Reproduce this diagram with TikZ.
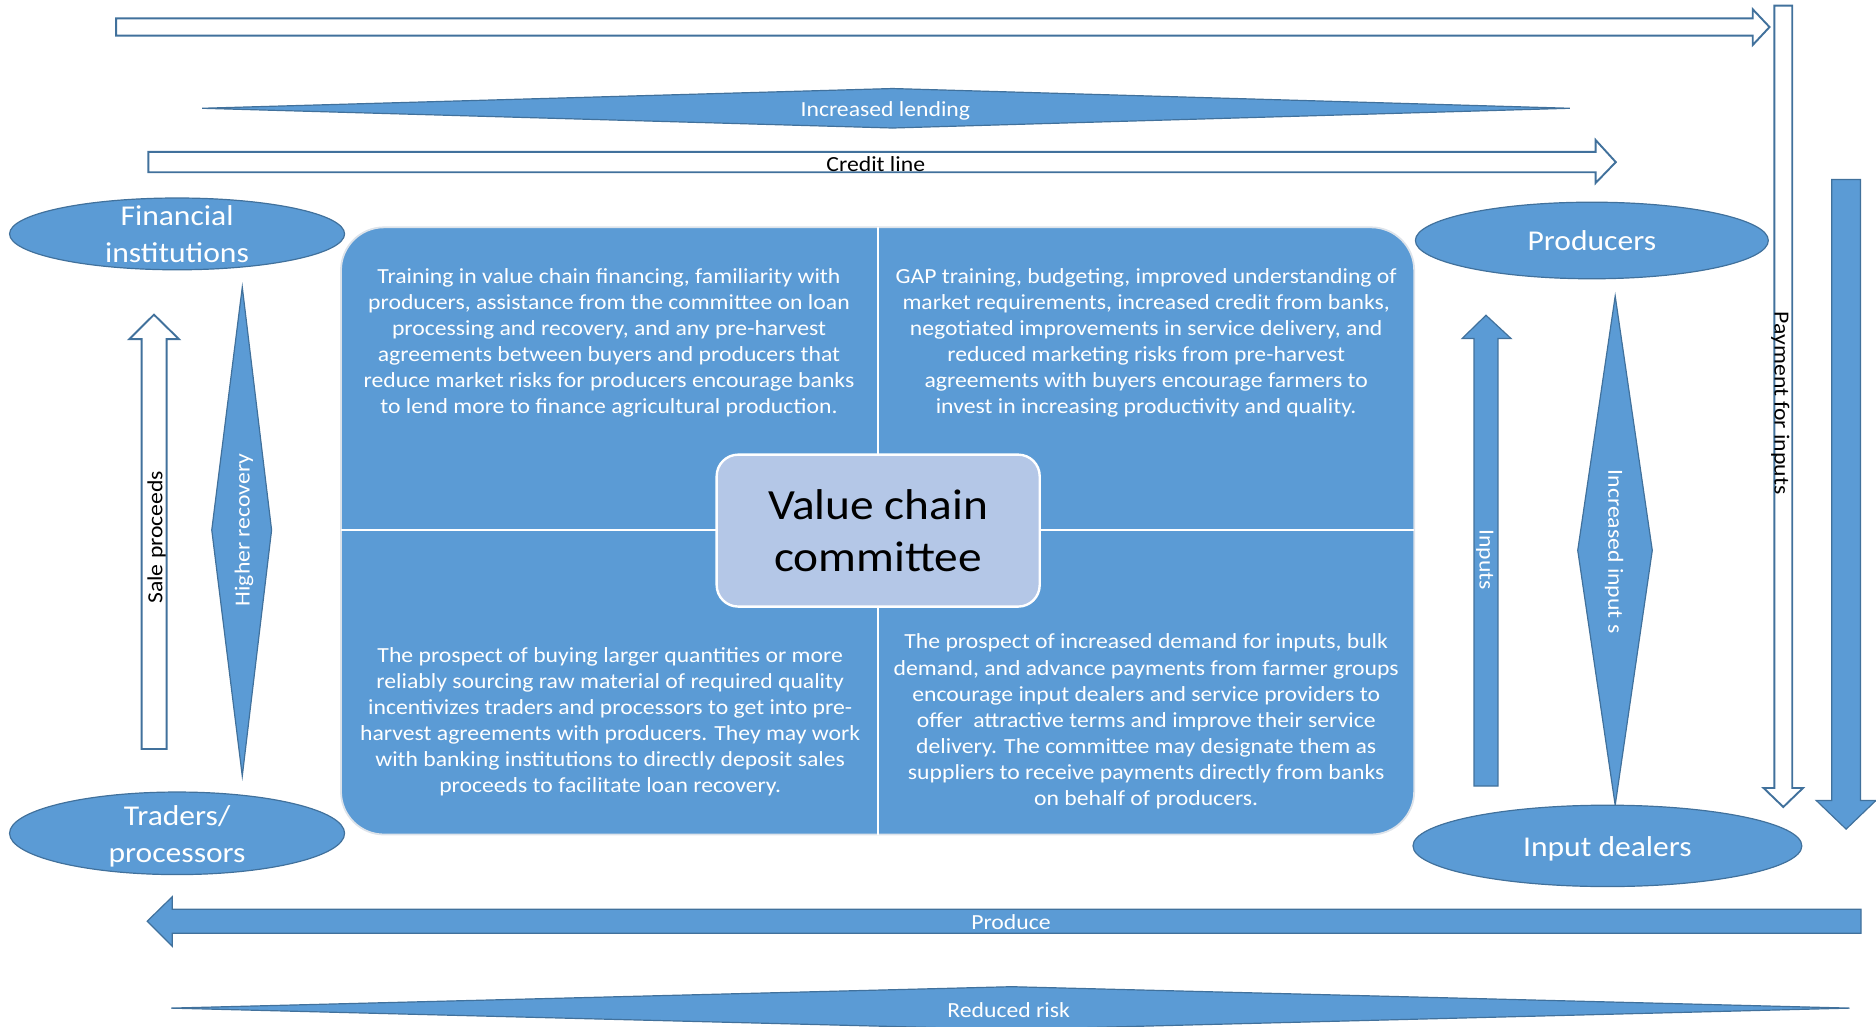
\documentclass[tikz,border=0pt]{standalone}
\usepackage{fontspec}
\setmainfont{Carlito}[FakeStretch=1.1]
\usetikzlibrary{shapes.geometric}
\definecolor{boxblue}{HTML}{5B9BD5}
\definecolor{edgeblue}{HTML}{41719C}
\definecolor{paleblue}{HTML}{B4C7E7}
\definecolor{rimgrey}{HTML}{DDE3EA}

\tikzset{
  party/.style={ellipse, fill=boxblue, draw=edgeblue, line width=1pt, inner sep=0pt},
  partytext/.style={text=white, align=center, inner sep=0pt, font=\fontsize{24}{31}\selectfont},
  solidarrow/.style={fill=boxblue, draw=edgeblue, line width=1pt, line join=miter},
  hollowarrow/.style={fill=white, draw=edgeblue, line width=1.6pt, line join=miter},
  spike/.style={fill=boxblue, draw=edgeblue, line width=1pt},
  lbl/.style={font=\fontsize{18}{21.8}\selectfont, inner sep=0pt},
  wlbl/.style={lbl, text=white},
  quadtext/.style={wlbl, align=center},
}

\begin{document}
\begin{tikzpicture}[x=1pt, y=-1pt]
\useasboundingbox (0,0) rectangle (1568,858);
\clip (0,0) rectangle (1568,858);

% ---- outer flows ----
\draw[hollowarrow] (97,15.3) -- (1465,15.3) -- (1465,7.8) -- (1479,22.6)
  -- (1465,37.6) -- (1465,29.8) -- (97,29.8) -- cycle;

\draw[spike] (169,90.5) -- (746,74) -- (1312,90.5) -- (746,107) -- cycle;
\node[wlbl] (lending) at (740,92.5) {Increased lending};

\draw[hollowarrow] (124,127) -- (1333.6,127) -- (1333.6,117) -- (1350.5,135.5)
  -- (1333.6,153) -- (1333.6,144) -- (124,144) -- cycle;
\node[lbl, anchor=base] (credit) at (732,143) {Credit line};

\draw[hollowarrow] (1483,4.7) -- (1483,658.6) -- (1474,658.6) -- (1490.5,674.5)
  -- (1507,658.6) -- (1498,658.6) -- (1498,4.7) -- cycle;
\node[lbl, rotate=-90] (payment) at (1488,337) {Payment for inputs};

\draw[solidarrow] (1531,150) -- (1531,669) -- (1518,669) -- (1543,693)
  -- (1568,669) -- (1555,669) -- (1555,150) -- cycle;

\draw[solidarrow] (1555.5,760) -- (144,760) -- (144,749.5) -- (123,770)
  -- (144,791) -- (144,780) -- (1555.5,780) -- cycle;
\node[wlbl] (produce) at (845,771) {Produce};

\draw[spike] (143,842.6) -- (845.5,824.7) -- (1546,842.6) -- (845.5,860.5) -- cycle;
\node[wlbl] (risk) at (843,844) {Reduced risk};

% ---- left side: banks and buyers ----
\draw[hollowarrow] (118.4,626) -- (118.4,283.5) -- (108,283.5) -- (128.7,263)
  -- (149.6,283.5) -- (139.3,283.5) -- (139.3,626) -- cycle;
\node[lbl, rotate=90] (sale) at (131,449) {Sale proceeds};

\draw[spike] (202.5,240) -- (227,443) -- (202.5,648.6) -- (177,443) -- cycle;
\node[wlbl, rotate=90] (recovery) at (204,443) {Higher recovery};

% ---- right side: producers and suppliers ----
\draw[solidarrow] (1232,657) -- (1232,283) -- (1222,283) -- (1242,263.5)
  -- (1263,283) -- (1252,283) -- (1252,657) -- cycle;
\node[wlbl, rotate=-90] (inputs) at (1241,467.6) {Inputs};

\draw[spike] (1350,247.5) -- (1381,460) -- (1350,673) -- (1318.7,460) -- cycle;
\node[wlbl, rotate=-90] (moreinputs) at (1349,461) {Increased input s};

% ---- actors ----
\node[party, minimum width=280pt, minimum height=60pt] (fin) at (148,195.5) {};
\node[partytext] at (fin) {Financial\\institutions};
\node[party, minimum width=280pt, minimum height=69pt] (trade) at (148,696.5) {};
\node[partytext, yshift=-2.5pt] at (trade) {Traders/\\processors};
\node[party, minimum width=295pt, minimum height=64pt] (prod) at (1330.5,201) {};
\node[partytext] at (prod) {Producers};
\node[party, minimum width=325pt, minimum height=68pt] (dealers) at (1343.5,707) {};
\node[partytext, yshift=-2.5pt] at (dealers) {Input dealers};

% ---- central matrix ----
\begin{scope}
  \clip[rounded corners=36pt] (285,190) rectangle (1182,697.5);
  \fill[boxblue] (285,190) rectangle (1182,697.5);
\end{scope}
\draw[rimgrey, line width=1.5pt, rounded corners=36pt] (285,190) rectangle (1182,697.5);
\draw[white, line width=2pt] (734,190) -- (734,697.5);
\draw[white, line width=2pt] (285,443) -- (1182,443);

\node[quadtext] (banks) at (509,286.5) {Training in value chain financing, familiarity with\\
producers, assistance from the committee on loan\\
processing and recovery, and any pre-harvest\\
agreements between buyers and producers that\\
reduce market risks for producers encourage banks\\
to lend more to finance agricultural production.};

\node[quadtext] (farmers) at (958,286.5) {GAP training, budgeting, improved understanding of\\
market requirements, increased credit from banks,\\
negotiated improvements in service delivery, and\\
reduced marketing risks from pre-harvest\\
agreements with buyers encourage farmers to\\
invest in increasing productivity and quality.};

\node[quadtext] (buyers) at (510,603.5) {The prospect of buying larger quantities or more\\
reliably sourcing raw material of required quality\\
incentivizes traders and processors to get into pre-\\
harvest agreements with producers. They may work\\
with banking institutions to directly deposit sales\\
proceeds to facilitate loan recovery.};

\node[quadtext] (suppliers) at (958,603) {The prospect of increased demand for inputs, bulk\\
demand, and advance payments from farmer groups\\
encourage input dealers and service providers to\\
offer\ \ attractive terms and improve their service\\
delivery. The committee may designate them as\\
suppliers to receive payments directly from banks\\
on behalf of producers.};

\node[draw=white, line width=2pt, fill=paleblue, rounded corners=18pt,
      minimum width=270pt, minimum height=127pt, align=center,
      font=\fontsize{36}{43}\selectfont] (vcc) at (734,443.5) {Value chain\\committee};

\end{tikzpicture}
\end{document}
